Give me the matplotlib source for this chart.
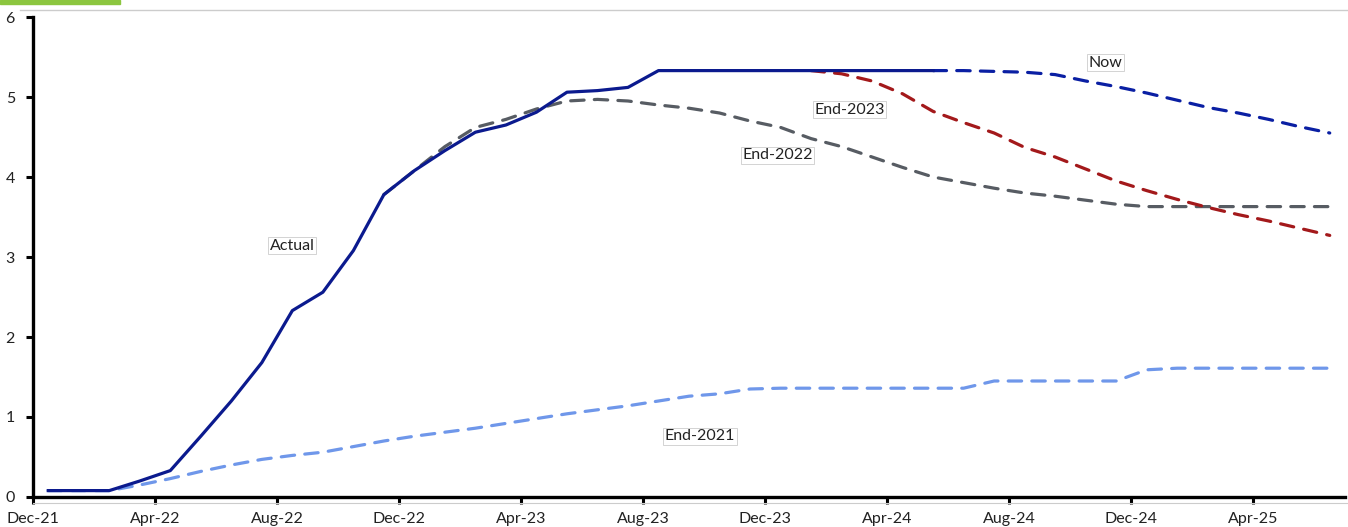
import matplotlib
matplotlib.use("Agg")
import matplotlib.pyplot as plt
from matplotlib.lines import Line2D
from matplotlib.patches import Rectangle

plt.rcParams['font.family'] = ['Lato', 'DejaVu Sans']

# month index 0 = Dec-21, values plotted mid-month
tick_labels = ["Dec-21", "Apr-22", "Aug-22", "Dec-22", "Apr-23", "Aug-23",
               "Dec-23", "Apr-24", "Aug-24", "Dec-24", "Apr-25"]

actual = [0.08, 0.08, 0.08, 0.20, 0.33, 0.76, 1.20, 1.68, 2.33, 2.56, 3.08,
          3.78, 4.08, 4.33, 4.56, 4.65, 4.81, 5.06, 5.08, 5.12, 5.33, 5.33,
          5.33, 5.33, 5.33, 5.33, 5.33, 5.33, 5.33, 5.33]
actual_start = 0

now = [5.33, 5.33, 5.32, 5.31, 5.28, 5.20, 5.13, 5.05, 4.96, 4.87, 4.80,
       4.72, 4.63, 4.55]
now_start = 29

end2023 = [5.33, 5.29, 5.20, 5.04, 4.82, 4.68, 4.55, 4.37, 4.25, 4.10, 3.95,
           3.83, 3.72, 3.62, 3.53, 3.45, 3.36, 3.27]
end2023_start = 25

end2022 = [3.78, 4.08, 4.38, 4.62, 4.72, 4.85, 4.95, 4.97, 4.95, 4.90, 4.86,
           4.80, 4.70, 4.62, 4.48, 4.38, 4.25, 4.12, 4.00, 3.93, 3.86, 3.80,
           3.76, 3.71, 3.66, 3.63, 3.63, 3.63, 3.63, 3.63, 3.63, 3.63]
end2022_start = 11

end2021 = [0.08, 0.08, 0.08, 0.15, 0.23, 0.32, 0.40, 0.47, 0.52, 0.56, 0.63,
           0.70, 0.76, 0.81, 0.86, 0.92, 0.98, 1.04, 1.09, 1.14, 1.20, 1.26,
           1.29, 1.35, 1.36, 1.36, 1.36, 1.36, 1.36, 1.36, 1.36, 1.45, 1.45,
           1.45, 1.45, 1.45, 1.59, 1.61, 1.61, 1.61, 1.61, 1.61, 1.61]
end2021_start = 0


def xs(start, vals):
    return [start + i + 0.5 for i in range(len(vals))]


fig = plt.figure(figsize=(13.48, 5.27), dpi=100)
ax = fig.add_axes([33 / 1348, 1 - 497 / 527, 1312 / 1348, 480 / 527])

dash = (0, (4.2, 3.2))
lw = 2.3
kw = dict(lw=lw, ls=dash, dash_capstyle="round")
ax.plot(xs(end2021_start, end2021), end2021, color="#6f97ea", **kw)
ax.plot(xs(end2022_start, end2022), end2022, color="#575c63", **kw)
ax.plot(xs(end2023_start, end2023), end2023, color="#a3191b", **kw)
ax.plot(xs(now_start, now), now, color="#0a1fa3", **kw)
ax.plot(xs(actual_start, actual), actual, color="#0b1a8e", lw=lw,
        solid_joinstyle="round")

ax.set_xlim(0, 43)
ax.set_ylim(0, 6)
ax.set_xticks(range(0, 41, 4))
ax.set_xticklabels(tick_labels)
ax.set_yticks(range(0, 7))

for s in ["top", "right"]:
    ax.spines[s].set_visible(False)
for s in ["left", "bottom"]:
    ax.spines[s].set_linewidth(2.4)
    ax.spines[s].set_color("black")
ax.tick_params(axis="both", length=5, width=2.2, labelsize=11.5,
               labelcolor="#222222", direction="out")
ax.tick_params(axis="x", pad=6)
ax.tick_params(axis="y", pad=8)

box = dict(boxstyle="square,pad=0.1", fc="white", ec="#cccccc", lw=0.6)
labels = [("Actual", 7.75, 3.14), ("End-2021", 20.7, 0.76),
          ("End-2022", 23.25, 4.27), ("End-2023", 25.6, 4.84),
          ("Now", 34.6, 5.43)]
for txt, x, y in labels:
    ax.text(x, y, txt, fontsize=11.5, color="#222222", ha="left",
            va="center", bbox=box, zorder=5)

# decoration: green tab and thin grey rule at top, faint rule under axis
fig.patches.append(Rectangle((0, 1 - 4 / 527), 120 / 1348, 4 / 527,
                             transform=fig.transFigure, color="#8cc63f"))
fig.lines.append(Line2D([20 / 1348, 1], [1 - 10 / 527, 1 - 10 / 527],
                        transform=fig.transFigure, color="#cccccc", lw=1))
fig.lines.append(Line2D([33 / 1348, 1], [1 - 503 / 527, 1 - 503 / 527],
                        transform=fig.transFigure, color="#cccccc", lw=0.8))

fig.savefig("out.png", dpi=100)
